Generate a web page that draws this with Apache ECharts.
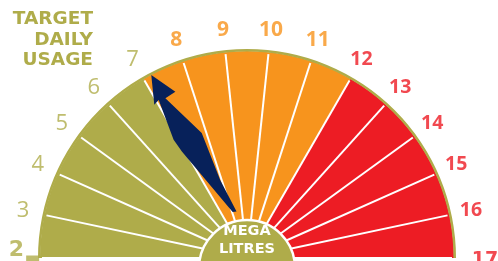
<!DOCTYPE html>
<html><head><meta charset="utf-8">
<script src="https://cdn.jsdelivr.net/npm/echarts@6/dist/echarts.min.js"></script>
<style>html,body{margin:0;padding:0;background:#fff}#c{width:498px;height:261px}</style>
</head><body><div id="c"></div>
<script>
// ---- data ----
const tickValues = [2, 3, 4, 5, 6, 7, 8, 9, 10, 11, 12, 13, 14, 15, 16, 17];
const zoneLimits = [7, 12, 17];          // olive to 7, orange to 12, red to 17
const usageValue = [7.2];                // needle reading (megalitres)
const titleLines = ['TARGET', 'DAILY', 'USAGE'];
const unitLines = ['MEGA', 'LITRES'];

// ---- styles ----
const OLIVE = '#afac4a', ORANGE = '#f7941d', RED = '#ed1c24', NAVY = '#07215a';
const zoneColors = [OLIVE, ORANGE, RED];
const MIN = tickValues[0], MAX = tickValues[tickValues.length - 1];
const CX = 247, CY = 258, R = 207, LABEL_R = 229;

const stops = zoneLimits.map((z, i) => [(z - MIN) / (MAX - MIN), zoneColors[i]]);
function labelZone(v) { return v <= zoneLimits[0] ? 0 : (v < zoneLimits[1] ? 1 : 2); }
const zoneFont = [
  { fontFamily: 'Open Sans', fontWeight: 500, fontSize: 22 },
  { fontFamily: 'Open Sans', fontWeight: 'bold', fontSize: 21 },
  { fontFamily: 'Open Sans', fontWeight: 'bold', fontSize: 19.5 }
];

const needlePath = 'path://M0 -206.6 L13.5 -180.4 L1.7 -179.4 L17.8 -131.8 L12.4 -81.6 L12.3 -46.1 L8.6 -47.4 ' +
  'L-8.4 -124.5 L-10.3 -138.7 L-5 -181 L-11.2 -178.7 Z M-17.8 0 L17.8 0 L17.8 0 Z';

const labelData = tickValues.map((v, i) => {
  const z = labelZone(v);
  const color = zoneColors[z];
  const item = { value: [1, v], label: Object.assign({ color: color }, zoneFont[z]) };
  if (i === 0) {
    item.label = {
      formatter: '{n|' + v + '}{g|}{d|}', offset: [6, -8],
      rich: {
        n: { color: color, fontFamily: 'DejaVu Sans', fontWeight: 'bold', fontSize: 22 },
        g: { width: 2 },
        d: { width: 13, height: 1.5, backgroundColor: color, verticalAlign: 'bottom', padding: [0, 0, 4, 0] }
      }
    };
  } else if (i === tickValues.length - 1) {
    item.label = { color: color, fontFamily: 'DejaVu Sans', fontWeight: 'bold', fontSize: 19, offset: [9, 2] };
  }
  return item;
});

const unitText = unitLines.map(s => '{a|' + s + '}').join('\n') + '\n{s| }';

const chart = echarts.init(document.getElementById('c'), null, { renderer: 'canvas' });
chart.setOption({
  animation: false,
  title: {
    text: titleLines.join('\n'), left: 88, top: 4, textAlign: 'right',
    textStyle: { color: OLIVE, fontFamily: 'DejaVu Sans', fontWeight: 'bold', fontSize: 18.5, lineHeight: 20.5 }
  },
  polar: { center: [CX, CY], radius: LABEL_R },
  angleAxis: { type: 'value', min: MIN, max: MIN + 2 * (MAX - MIN), startAngle: 180, clockwise: true, show: false },
  radiusAxis: { type: 'value', min: 0, max: 1, show: false },
  series: [
    {
      type: 'gauge', center: [CX, CY], radius: R, startAngle: 180, endAngle: 0,
      min: MIN, max: MAX, splitNumber: MAX - MIN,
      axisLine: { lineStyle: { width: R, color: stops } },
      splitLine: { show: true, distance: -(R - 2), length: R - 10, lineStyle: { color: '#fff', width: 2 } },
      axisTick: { show: false }, axisLabel: { show: false },
      pointer: { icon: needlePath, length: 206.6, width: 35.6, itemStyle: { color: NAVY } },
      anchor: { show: false }, title: { show: false }, detail: { show: false },
      data: [{ value: usageValue[0] }]
    },
    {
      type: 'gauge', center: [CX, CY], radius: R + 2, startAngle: 180, endAngle: 0,
      min: MIN, max: MAX,
      axisLine: { lineStyle: { width: 2.5, color: [[1, OLIVE]] } },
      splitLine: { show: false }, axisTick: { show: false }, axisLabel: { show: false },
      pointer: { show: false }, anchor: { show: false }, title: { show: false }, detail: { show: false },
      data: []
    },
    {
      type: 'pie', center: [CX, CY + 10], radius: 48, silent: true, z: 3,
      labelLine: { show: false },
      label: {
        show: true, position: 'center', formatter: () => unitText,
        rich: {
          a: { color: '#fff', fontFamily: 'DejaVu Sans', fontWeight: 'bold', fontSize: 14.5, lineHeight: 17.5, height: 17.5 },
          s: { fontSize: 10, height: 56, lineHeight: 56 }
        }
      },
      itemStyle: { color: OLIVE, borderColor: '#fff', borderWidth: 2.5 },
      data: [{ value: 1 }]
    },
    {
      type: 'scatter', coordinateSystem: 'polar', symbolSize: 0.1, silent: true,
      itemStyle: { color: 'rgba(0,0,0,0)' },
      label: { show: true, position: 'inside', formatter: p => String(p.value[1]) },
      data: labelData
    }
  ]
});
</script></body></html>
